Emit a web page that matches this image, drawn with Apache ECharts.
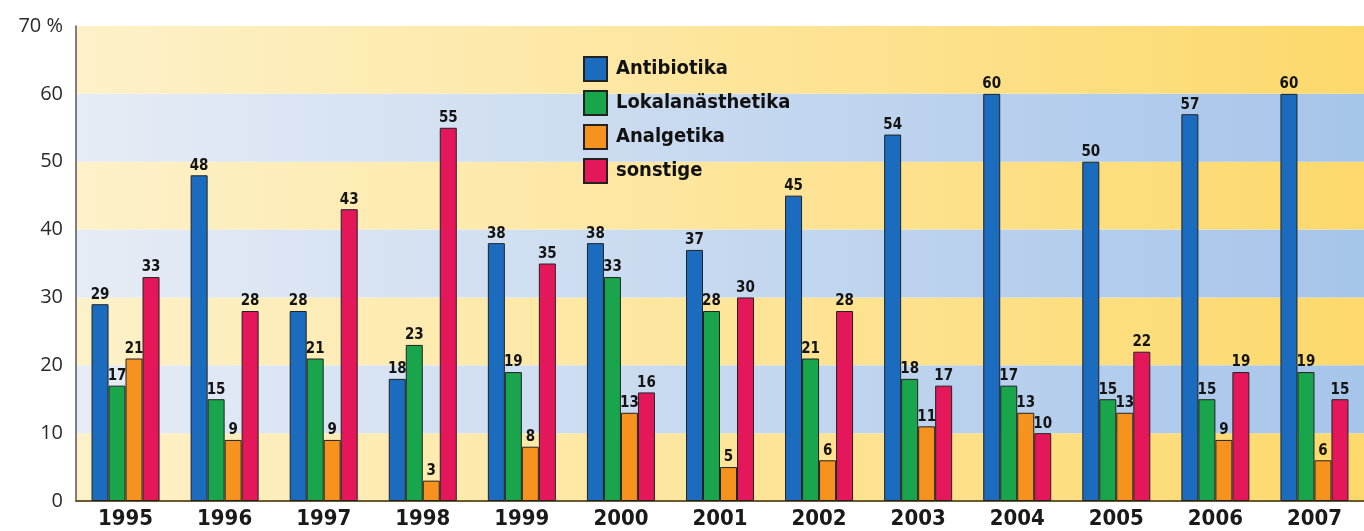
<!DOCTYPE html>
<html>
<head>
<meta charset="utf-8">
<script src="https://cdn.jsdelivr.net/npm/echarts@6/dist/echarts.min.js"></script>
<style>
html,body{margin:0;padding:0;background:#ffffff;}
#chart{width:1364px;height:531px;}
</style>
</head>
<body>
<div id="chart"></div>
<script>
const years = ['1995','1996','1997','1998','1999','2000','2001','2002','2003','2004','2005','2006','2007'];
const seriesNames = ['Antibiotika','Lokalanästhetika','Analgetika','sonstige'];
const antibiotika = [29,48,28,18,38,38,37,45,54,60,50,57,60];
const lokalanaesthetika = [17,15,21,23,19,33,28,21,18,17,15,15,19];
const analgetika = [21,9,9,3,8,13,5,6,11,13,13,9,6];
const sonstige = [33,28,43,55,35,16,30,28,17,10,22,19,15];
const seriesColors = ['#1b6cbf','#18a54c','#f6921e','#e5175b'];
const yTicks = [0,10,20,30,40,50,60,70];

const chart = echarts.init(document.getElementById('chart'), null, {renderer:'canvas'});

function grad(c0, c1){
  return {type:'linear', x:0, y:0, x2:1, y2:0, colorStops:[{offset:0,color:c0},{offset:1,color:c1}]};
}
const yellowBand = grad('#fdf1c9', '#fdd96c');
const blueBand = grad('#e6ecf5', '#a6c5ea');

const labelFont = 'DejaVu Sans Condensed, DejaVu Sans, sans-serif';
const values = [antibiotika, lokalanaesthetika, analgetika, sonstige];

const series = seriesNames.map((name, i) => ({
  name: name,
  type: 'bar',
  data: values[i],
  barWidth: 17,
  barGap: '0%',
  itemStyle: {color: seriesColors[i], borderColor: '#222222', borderWidth: 1},
  label: {
    show: true,
    position: 'top',
    distance: 2,
    fontFamily: labelFont,
    fontWeight: 'bold',
    fontSize: 15,
    color: '#141414'
  },
  emphasis: {disabled: true}
}));

chart.setOption({
  animation: false,
  backgroundColor: '#ffffff',
  grid: {left: 76, right: 0, top: 26, bottom: 30, containLabel: false},
  legend: {
    data: seriesNames,
    orient: 'vertical',
    left: 578,
    top: 51,
    itemWidth: 23,
    itemHeight: 24,
    itemGap: 8,
    icon: 'rect',
    textStyle: {fontFamily: labelFont, fontWeight: 'bold', fontSize: 20, color: '#111111', padding: [0,0,0,4]}
  },
  xAxis: {
    type: 'category',
    data: years,
    boundaryGap: true,
    axisLine: {show: true, lineStyle: {color: '#6b5a2e', width: 2}},
    axisTick: {show: false},
    axisLabel: {fontFamily: labelFont, fontWeight: 'bold', fontSize: 22, color: '#1a1a1a', margin: 7},
    splitLine: {show: false}
  },
  yAxis: {
    type: 'value',
    min: yTicks[0],
    max: yTicks[yTicks.length-1],
    interval: 10,
    axisLine: {show: true, lineStyle: {color: '#555555', width: 1.5}},
    axisTick: {show: false},
    axisLabel: {
      fontFamily: 'Open Sans, sans-serif',
      fontSize: 20,
      color: '#2a2a2a',
      margin: 13,
      formatter: v => v === 70 ? '70 %' : String(v)
    },
    splitLine: {show: false},
    splitArea: {show: true, areaStyle: {color: [yellowBand, blueBand]}}
  },
  series: series
});
</script>
</body>
</html>
